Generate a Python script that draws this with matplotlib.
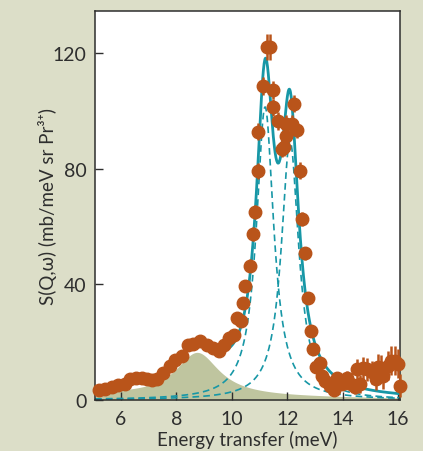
import numpy as np
import matplotlib
matplotlib.use("Agg")
import matplotlib.pyplot as plt

plt.rcParams['font.family'] = ['Lato', 'DejaVu Sans']

energy = [5.20, 5.42, 5.66, 5.90, 6.14, 6.32, 6.54, 6.75, 6.93, 7.10, 7.29, 7.53,
          7.75, 7.95, 8.19, 8.40, 8.61, 8.85, 9.09, 9.33, 9.54, 9.72, 9.91, 10.08,
          10.20, 10.33, 10.42, 10.48, 10.66, 10.77, 10.84, 10.94, 10.96, 11.13,
          11.26, 11.36, 11.47, 11.49, 11.65, 11.80, 11.90, 11.95, 11.97, 12.18,
          12.25, 12.35, 12.46, 12.55, 12.64, 12.76, 12.85, 12.94, 13.04, 13.18,
          13.24, 13.36, 13.54, 13.67, 13.79, 13.97, 14.15, 14.29, 14.45, 14.53,
          14.63, 14.75, 14.87, 15.05, 15.20, 15.29, 15.37, 15.47, 15.65, 15.73,
          15.89, 16.01, 16.07]
intensity = [3.5, 3.7, 4.6, 5.1, 5.7, 7.1, 7.7, 7.7, 7.1, 6.8, 7.1, 9.4,
             11.7, 14.0, 15.2, 19.2, 19.5, 20.4, 19.2, 18.0, 16.9, 19.2, 21.5, 22.6,
             28.4, 27.5, 33.5, 39.5, 46.5, 57.5, 65.0, 79.2, 92.8, 108.6,
             122.2, 122.2, 107.3, 101.3, 96.5, 87.0, 87.5, 91.3, 95.5, 95.5,
             102.5, 93.5, 79.4, 62.6, 50.8, 35.3, 24.0, 17.6, 11.3, 12.7,
             8.4, 6.7, 5.0, 3.6, 7.5, 5.5, 7.5, 5.5, 4.6, 10.7,
             5.5, 11.0, 10.7, 9.6, 7.3, 11.3, 11.0, 8.4, 11.9, 13.6,
             13.6, 12.5, 5.0]
errors = [1.5, 1.5, 1.5, 1.5, 1.5, 1.5, 1.5, 1.5, 1.5, 1.5, 1.5, 1.5,
          1.5, 1.5, 1.5, 1.5, 1.5, 1.5, 1.5, 1.5, 1.5, 1.5, 1.5, 1.8,
          1.8, 1.8, 2.0, 2.0, 2.2, 2.5, 2.5, 2.8, 3.0, 3.2,
          4.5, 4.5, 3.2, 3.0, 3.0, 3.0, 3.0, 3.0, 3.0, 3.0,
          3.0, 3.0, 2.8, 2.5, 2.2, 2.0, 2.0, 1.8, 1.8, 1.8,
          1.8, 1.8, 1.8, 1.8, 2.0, 2.0, 2.5, 2.5, 2.5, 3.5,
          3.0, 4.0, 4.0, 4.0, 4.0, 4.5, 4.5, 4.5, 5.0, 5.0,
          5.0, 5.0, 4.0]

# ---- fit model parameters (Lorentzian peaks + broad background) ----
peak_centers = [11.20, 12.10]
peak_heights = [101.4, 89.7]
peak_hwhm = [0.38, 0.38]
bg_center = 8.75
bg_height = 15.0
bg_hwhm = 0.95
bg_baseline = [2.0, 0.5]      # linear baseline at E=5 and E=16
total_start = 9.4

xticks = [6, 8, 10, 12, 14, 16]
yticks = [0, 40, 80, 120]

c_bg = '#dcdec8'
c_fill = '#bfc59f'
c_dots = '#b9541a'
c_line = '#1797a6'
c_text = '#2e2e2e'

fig = plt.figure(figsize=(4.23, 4.52), dpi=100, facecolor=c_bg)
ax = fig.add_axes([0.2246, 0.1128, 0.7210, 0.8606])
ax.set_facecolor('white')

x = np.linspace(5.06, 16.07, 800)

def lor(e, c, h, w):
    return h / (1.0 + ((e - c) / w) ** 2)

def background(e):
    base = bg_baseline[0] + (bg_baseline[1] - bg_baseline[0]) * (e - 5.0) / 11.0
    return lor(e, bg_center, bg_height, bg_hwhm) + base

bg = background(x)
ax.fill_between(x, 0, bg, color=c_fill, lw=0, zorder=1)

peaks = [lor(x, c, h, w) for c, h, w in zip(peak_centers, peak_heights, peak_hwhm)]
for p in peaks:
    ax.plot(x, p, color=c_line, lw=1.2, ls=(0, (4, 2.5)), zorder=2)

total = bg + peaks[0] + peaks[1]
m = x >= total_start
ax.plot(x[m], total[m], color=c_line, lw=2.0, zorder=3, solid_capstyle='round')

ax.errorbar(energy, intensity, yerr=errors, fmt='o', color=c_dots, ms=9,
            mec=c_dots, mfc=c_dots, elinewidth=1.8, capsize=0, zorder=4,
            clip_on=False)

ax.set_xlim(5.06, 16.07)
ax.set_ylim(0, 134.6)
ax.set_xticks(xticks)
ax.set_yticks(yticks)
ax.tick_params(direction='in', length=5.5, width=1.0, colors=c_text,
               labelsize=14)
ax.tick_params(axis='x', pad=7.5)
ax.tick_params(axis='y', pad=6)
for s in ax.spines.values():
    s.set_color(c_text)
    s.set_linewidth(1.1)

ax.set_xlabel('Energy transfer (meV)', fontsize=13.5, color=c_text)
ax.set_ylabel('S(Q,ω) (mb/meV sr Pr³⁺)', fontsize=13.5, color=c_text)
ax.xaxis.set_label_coords(0.5, -0.077)
ax.yaxis.set_label_coords(-0.125, 0.5)

fig.savefig('out.png', dpi=100, facecolor=c_bg)
